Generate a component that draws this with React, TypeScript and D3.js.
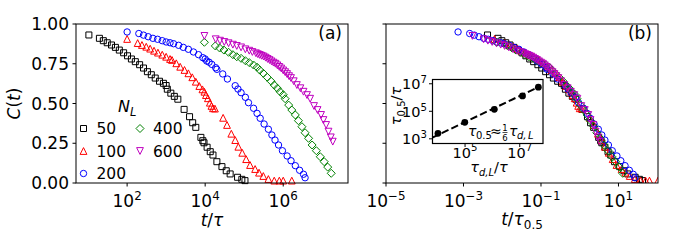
import * as d3 from "d3";

const FONT = "DejaVu Sans, sans-serif";

// panel (a): log10(t/tau) and C(t), one pair of arrays per N_L
const logT50 = [1.02, 1.29, 1.39, 1.49, 1.6, 1.7, 1.8, 1.91, 2.01, 2.11, 2.21, 2.32, 2.42, 2.52, 2.62, 2.72, 2.83, 2.93, 3.0, 3.03, 3.12, 3.21, 3.3, 3.46, 3.6, 3.68, 3.76, 3.89, 3.94, 3.97, 4.05, 4.13, 4.2, 4.3, 4.43, 4.54, 4.64, 4.83, 4.94, 5.02];
const c50 = [0.931, 0.91, 0.895, 0.882, 0.868, 0.853, 0.836, 0.819, 0.8, 0.78, 0.763, 0.744, 0.723, 0.7, 0.681, 0.66, 0.64, 0.627, 0.613, 0.59, 0.565, 0.545, 0.527, 0.463, 0.417, 0.379, 0.35, 0.287, 0.266, 0.253, 0.225, 0.197, 0.176, 0.134, 0.103, 0.077, 0.057, 0.036, 0.023, 0.015];

const logT100 = [2.0, 2.27, 2.38, 2.49, 2.59, 2.69, 2.79, 2.9, 3.0, 3.1, 3.15, 3.26, 3.36, 3.47, 3.57, 3.67, 3.76, 3.85, 3.93, 3.98, 4.02, 4.07, 4.12, 4.16, 4.2, 4.25, 4.46, 4.56, 4.67, 4.77, 4.85, 4.95, 5.05, 5.15, 5.28, 5.38, 5.49, 5.62, 5.77, 5.9, 6.0, 6.22];
const c100 = [0.906, 0.88, 0.868, 0.857, 0.845, 0.832, 0.82, 0.807, 0.794, 0.78, 0.774, 0.753, 0.731, 0.711, 0.69, 0.665, 0.637, 0.61, 0.589, 0.574, 0.553, 0.533, 0.505, 0.485, 0.47, 0.468, 0.41, 0.365, 0.31, 0.27, 0.228, 0.19, 0.15, 0.113, 0.088, 0.065, 0.044, 0.025, 0.015, 0.015, 0.015, 0.015];

const logT200 = [2.0, 2.3, 2.42, 2.54, 2.66, 2.78, 2.9, 3.0, 3.1, 3.19, 3.32, 3.44, 3.57, 3.7, 3.83, 3.94, 4.0, 4.04, 4.1, 4.17, 4.27, 4.3, 4.45, 4.57, 4.77, 4.84, 4.92, 5.03, 5.11, 5.24, 5.33, 5.41, 5.51, 5.62, 5.71, 5.79, 5.88, 5.98, 6.1, 6.2, 6.31, 6.42, 6.52, 6.56];
const c200 = [0.95, 0.94, 0.93, 0.92, 0.91, 0.904, 0.895, 0.887, 0.882, 0.876, 0.866, 0.853, 0.841, 0.824, 0.807, 0.788, 0.78, 0.767, 0.76, 0.746, 0.725, 0.715, 0.686, 0.654, 0.612, 0.591, 0.568, 0.539, 0.505, 0.47, 0.438, 0.407, 0.371, 0.338, 0.302, 0.27, 0.239, 0.203, 0.17, 0.14, 0.109, 0.08, 0.055, 0.033];

const logT400 = [3.98, 4.26, 4.37, 4.48, 4.6, 4.71, 4.81, 4.92, 5.03, 5.13, 5.24, 5.33, 5.4, 5.49, 5.59, 5.69, 5.77, 5.85, 5.92, 6.0, 6.05, 6.14, 6.22, 6.31, 6.39, 6.48, 6.56, 6.65, 6.74, 6.85, 6.95, 7.05, 7.14, 7.23];
const c400 = [0.885, 0.862, 0.849, 0.836, 0.822, 0.807, 0.794, 0.784, 0.769, 0.757, 0.742, 0.728, 0.71, 0.69, 0.665, 0.64, 0.616, 0.596, 0.574, 0.555, 0.53, 0.49, 0.459, 0.428, 0.392, 0.354, 0.316, 0.281, 0.239, 0.203, 0.165, 0.134, 0.1, 0.061];

const logT600 = [3.98, 4.27, 4.38, 4.49, 4.6, 4.71, 4.81, 4.92, 5.03, 5.13, 5.21, 5.3, 5.35, 5.4, 5.45, 5.5, 5.55, 5.6, 5.65, 5.7, 5.75, 5.8, 5.85, 5.9, 5.95, 6.0, 6.05, 6.1, 6.15, 6.2, 6.27, 6.35, 6.44, 6.52, 6.61, 6.69, 6.79, 6.88, 6.97, 7.03, 7.1, 7.16, 7.22, 7.27];
const c600 = [0.925, 0.904, 0.895, 0.887, 0.879, 0.87, 0.862, 0.853, 0.841, 0.832, 0.824, 0.816, 0.81, 0.805, 0.8, 0.795, 0.788, 0.78, 0.773, 0.765, 0.757, 0.75, 0.74, 0.73, 0.72, 0.708, 0.697, 0.685, 0.672, 0.66, 0.64, 0.616, 0.596, 0.574, 0.553, 0.53, 0.484, 0.459, 0.428, 0.396, 0.365, 0.323, 0.287, 0.26];

const nlLabels = ["50", "100", "200", "400", "600"];
const colors = ["#000000", "#ff0000", "#0000ff", "#008000", "#bf00bf"];
const markerKinds = ["square", "triUp", "circle", "diamond", "triDown"];

// inset: log10 tau_{d,L}/tau vs log10 tau_0.5/tau (also the shift used in panel b)
const tauDL = [4.01, 4.99, 6.07, 7.1, 7.68];
const tau05 = [3.4, 4.2, 5.14, 6.12, 6.75];
const fitTauDL = [3.8, 7.68];
const fitTau05 = [3.08, 6.76];

const yTicks = [0, 0.25, 0.5, 0.75, 1];
const xTicksA = [2, 4, 6];
const xTicksB = [-5, -3, -1, 1];
const insetXTicks = [5, 7];
const insetYTicks = [3, 5, 7];

const series = [
  { logT: logT50, c: c50 },
  { logT: logT100, c: c100 },
  { logT: logT200, c: c200 },
  { logT: logT400, c: c400 },
  { logT: logT600, c: c600 },
].map((s, i) => ({ ...s, color: colors[i], kind: markerKinds[i], label: nlLabels[i], tau: tau05[i] }));

function markerPath(kind: string) {
  const p = d3.path();
  if (kind === "square") {
    p.rect(-3, -3, 6, 6);
  } else if (kind === "triUp") {
    p.moveTo(0, -3.4);
    p.lineTo(3.4, 3.4);
    p.lineTo(-3.4, 3.4);
    p.closePath();
  } else if (kind === "triDown") {
    p.moveTo(0, 3.4);
    p.lineTo(3.4, -3.4);
    p.lineTo(-3.4, -3.4);
    p.closePath();
  } else if (kind === "diamond") {
    p.moveTo(0, -4);
    p.lineTo(4, 0);
    p.lineTo(0, 4);
    p.lineTo(-4, 0);
    p.closePath();
  } else {
    p.arc(0, 0, 3.2, 0, 2 * Math.PI);
    p.closePath();
  }
  return p.toString();
}

function Pow10({ x, y, e, anchor, size }: { x: number; y: number; e: number; anchor: string; size: number }) {
  return (
    <text x={x} y={y} textAnchor={anchor} fontSize={size} fontFamily={FONT}>
      10
      <tspan dy={-size * 0.42} fontSize={size * 0.7}>
        {String(e).replace("-", "\u2212")}
      </tspan>
    </text>
  );
}

export default function App() {
  const width = 675,
    height = 250;
  const top = 24,
    bottom = 183;
  const aLeft = 76,
    aRight = 348,
    bLeft = 386,
    bRight = 658;
  const tick = 3.5,
    fs = 17;

  const y = d3.scaleLinear().domain([0, 1]).range([bottom, top]);
  const xA = d3.scaleLog().domain([10 ** 0.69, 10 ** 7.66]).range([aLeft, aRight]);
  const xB = d3.scaleLog().domain([1e-5, 10 ** 2.02]).range([bLeft, bRight]);

  const iLeft = 432.5,
    iRight = 543,
    iTop = 79.5,
    iBottom = 143.5;
  const xI = d3.scaleLog().domain([10 ** 3.81, 10 ** 7.85]).range([iLeft, iRight]);
  const yI = d3.scaleLog().domain([10 ** 2.66, 10 ** 7.31]).range([iBottom, iTop]);
  const fitLine = d3
    .line<number>()
    .x((d) => xI(10 ** fitTauDL[d]))
    .y((d) => yI(10 ** fitTau05[d]));

  return (
    <svg
      width={width}
      height={height}
      style={{ position: "absolute", left: 0, top: 0, background: "white" }}
      fontFamily={FONT}
    >
      <defs>
        <clipPath id="clipB">
          <rect x={bLeft} y={top} width={bRight - bLeft} height={bottom - top} />
        </clipPath>
      </defs>

      {/* panel (a) */}
      <g>
        {series.map((s) => (
          <g key={s.label} fill="none" stroke={s.color} strokeWidth={1}>
            {s.logT.map((lt, j) => (
              <path key={j} d={markerPath(s.kind)} transform={`translate(${xA(10 ** lt)},${y(s.c[j])})`} />
            ))}
          </g>
        ))}
        <rect x={aLeft} y={top} width={aRight - aLeft} height={bottom - top} fill="none" stroke="black" strokeWidth={1} />
        {yTicks.map((v) => (
          <g key={v}>
            <line x1={aLeft - tick} x2={aLeft} y1={y(v)} y2={y(v)} stroke="black" />
            <text x={aLeft - tick - 3.5} y={y(v)} dy="0.36em" textAnchor="end" fontSize={fs}>
              {v.toFixed(2)}
            </text>
          </g>
        ))}
        {xTicksA.map((e) => (
          <g key={e}>
            <line x1={xA(10 ** e)} x2={xA(10 ** e)} y1={bottom} y2={bottom + tick} stroke="black" />
            <Pow10 x={xA(10 ** e)} y={207} e={e} anchor="middle" size={fs} />
          </g>
        ))}
        <text x={(aLeft + aRight) / 2} y={226} textAnchor="middle" fontSize={fs}>
          <tspan fontStyle="italic">t</tspan>/<tspan fontStyle="italic">τ</tspan>
        </text>
        <text transform={`translate(20,${(top + bottom) / 2}) rotate(-90)`} textAnchor="middle" fontSize={fs}>
          <tspan fontStyle="italic">C</tspan>(<tspan fontStyle="italic">t</tspan>)
        </text>
        <text x={aRight - 6} y={39} textAnchor="end" fontSize={fs}>
          (a)
        </text>

        {/* legend */}
        <text x={118} y={112} fontSize={16} fontStyle="italic">
          N
          <tspan dy={4} fontSize={11.5}>
            L
          </tspan>
        </text>
        {series.map((s, i) => {
          const col = i < 3 ? 0 : 1;
          const row = i < 3 ? i : i - 3;
          const mx = col === 0 ? 83.5 : 140;
          const ty = 128.5 + row * 22.5;
          return (
            <g key={s.label}>
              <path d={markerPath(s.kind)} transform={`translate(${mx},${ty})`} fill="none" stroke={s.color} />
              <text x={mx + 13} y={ty} dy="0.36em" fontSize={15.5}>
                {s.label}
              </text>
            </g>
          );
        })}
      </g>

      {/* panel (b) */}
      <g>
        <g clipPath="url(#clipB)">
          {series.map((s) => (
            <g key={s.label} fill="none" stroke={s.color} strokeWidth={1}>
              {s.logT.map((lt, j) => (
                <path key={j} d={markerPath(s.kind)} transform={`translate(${xB(10 ** (lt - s.tau))},${y(s.c[j])})`} />
              ))}
            </g>
          ))}
        </g>
        <rect x={bLeft} y={top} width={bRight - bLeft} height={bottom - top} fill="none" stroke="black" strokeWidth={1} />
        {yTicks.map((v) => (
          <line key={v} x1={bLeft - tick} x2={bLeft} y1={y(v)} y2={y(v)} stroke="black" />
        ))}
        {xTicksB.map((e) => (
          <g key={e}>
            <line x1={xB(10 ** e)} x2={xB(10 ** e)} y1={bottom} y2={bottom + tick} stroke="black" />
            <Pow10 x={xB(10 ** e)} y={207} e={e} anchor="middle" size={fs} />
          </g>
        ))}
        <text x={(bLeft + bRight) / 2} y={225} textAnchor="middle" fontSize={fs}>
          <tspan fontStyle="italic">t</tspan>/<tspan fontStyle="italic">τ</tspan>
          <tspan dy={4} fontSize={12}>
            0.5
          </tspan>
        </text>
        <text x={bRight - 6} y={39} textAnchor="end" fontSize={fs}>
          (b)
        </text>

        {/* inset */}
        <rect x={iLeft} y={iTop} width={iRight - iLeft} height={iBottom - iTop} fill="white" stroke="black" strokeWidth={1.2} />
        <path d={fitLine([0, 1]) ?? ""} fill="none" stroke="black" strokeWidth={2} strokeDasharray="7.4,3.2" />
        {tauDL.map((d, i) => (
          <circle key={i} cx={xI(10 ** d)} cy={yI(10 ** tau05[i])} r={3.4} fill="black" />
        ))}
        {insetYTicks.map((e) => (
          <g key={e}>
            <line x1={iLeft - tick} x2={iLeft} y1={yI(10 ** e)} y2={yI(10 ** e)} stroke="black" />
            <Pow10 x={iLeft - tick - 2} y={yI(10 ** e) + 5.5} e={e} anchor="end" size={14.5} />
          </g>
        ))}
        {insetXTicks.map((e) => (
          <g key={e}>
            <line x1={xI(10 ** e)} x2={xI(10 ** e)} y1={iBottom} y2={iBottom + tick} stroke="black" />
            <Pow10 x={xI(10 ** e)} y={157.5} e={e} anchor="middle" size={14.5} />
          </g>
        ))}
        <text x={489} y={172} textAnchor="middle" fontSize={14.5}>
          <tspan fontStyle="italic">τ</tspan>
          <tspan dy={3.5} fontSize={10} fontStyle="italic">
            d,L
          </tspan>
          <tspan dy={-3.5}>/</tspan>
          <tspan fontStyle="italic">τ</tspan>
        </text>
        <text transform={`translate(401,106) rotate(-90)`} textAnchor="middle" fontSize={14.5}>
          <tspan fontStyle="italic">τ</tspan>
          <tspan dy={3.5} fontSize={10}>
            0.5
          </tspan>
          <tspan dy={-3.5}>/</tspan>
          <tspan fontStyle="italic">τ</tspan>
        </text>

        {/* annotation: tau_0.5 ≈ (1/6) tau_{d,L} */}
        <g fontSize={14}>
          <text x={468} y={136} fontStyle="italic">
            τ
          </text>
          <text x={476} y={139} fontSize={10}>
            0.5
          </text>
          <text x={490} y={136}>
            ≈
          </text>
          <text x={505} y={130.5} textAnchor="middle" fontSize={8.5}>
            1
          </text>
          <line x1={502.5} x2={507.5} y1={132.5} y2={132.5} stroke="black" strokeWidth={0.7} />
          <text x={505} y={140.5} textAnchor="middle" fontSize={8.5}>
            6
          </text>
          <text x={509} y={136} fontStyle="italic">
            τ
          </text>
          <text x={517} y={139} fontSize={10} fontStyle="italic">
            d,<tspan dx={1.5}>L</tspan>
          </text>
        </g>
      </g>
    </svg>
  );
}
